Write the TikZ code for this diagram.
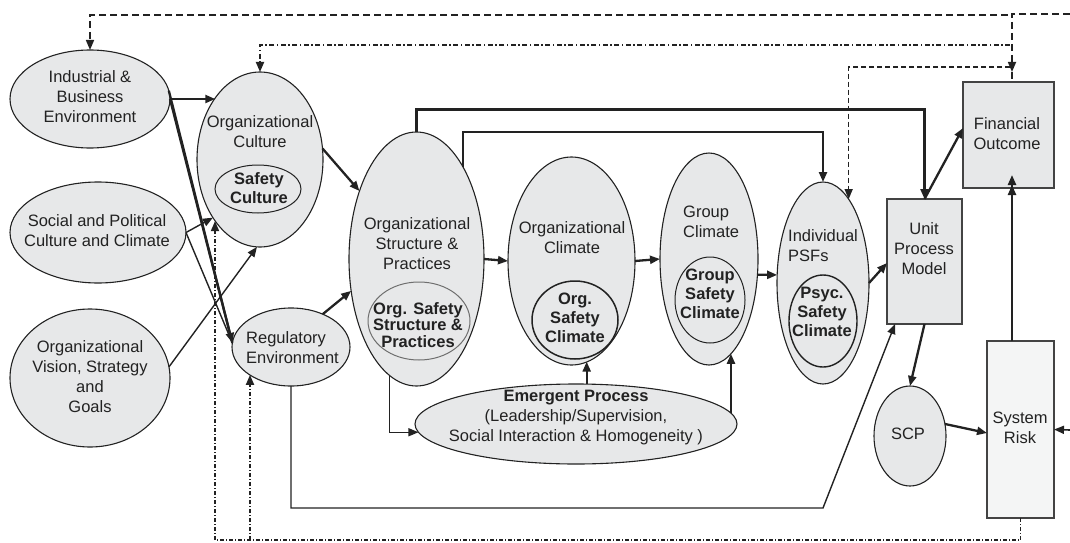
\documentclass[tikz,border=0pt]{standalone}
\usepackage{fontspec}
\setmainfont{Liberation Sans}
\usetikzlibrary{shapes.geometric,arrows.meta,calc}
\definecolor{shade}{HTML}{E7E8E9}
\definecolor{pale}{HTML}{F4F5F5}
\definecolor{ink}{HTML}{222222}
\begin{document}
\begin{tikzpicture}[x=1pt,y=-1pt,
  oval/.style={ellipse, draw=ink, fill=shade, line width=1.1pt, inner sep=0pt, outer sep=0pt},
  inset/.style={ellipse, draw=ink, line width=1pt, inner sep=0pt, outer sep=0pt},
  boxnode/.style={rectangle, draw=ink!85, fill=shade, line width=1.1pt, inner sep=0pt, outer sep=0pt},
  lbl/.style={font=\fontsize{16.5}{20}\selectfont, text=ink, align=center, inner sep=0pt},
  blbl/.style={font=\fontsize{16.5}{19}\selectfont\bfseries, text=ink, align=center, inner sep=0pt},
  tip/.style={-{Triangle[length=10pt,width=8pt]}},
  dtip/.style={-{Triangle[length=10pt,width=8pt]Triangle[length=10pt,width=8pt]}},
  flow/.style={draw=ink, line width=2.3pt},
  link/.style={draw=ink, line width=1.4pt},
  fbdash/.style={draw=ink, line width=1.6pt, dash pattern=on 7pt off 4pt},
  fbshort/.style={draw=ink, line width=1.2pt, dash pattern=on 5pt off 3pt},
  fbdot/.style={draw=ink, line width=1.8pt, dash pattern=on 5pt off 2.5pt on 1.5pt off 2.5pt},
  fbdotlow/.style={draw=ink, line width=1.8pt, dash pattern=on 4pt off 2pt on 1pt off 2pt},
]
\useasboundingbox (0,0) rectangle (1070,543);

% ---- outer ellipses ----
\node[oval, minimum width=160pt, minimum height=98pt]  (ibe) at (90,99) {};
\node[oval, minimum width=176pt, minimum height=101pt] (spc) at (98,232.5) {};
\node[oval, minimum width=160pt, minimum height=138pt] (ovs) at (90,378) {};
\node[oval, minimum width=126pt, minimum height=175pt] (oc)  at (260,159.5) {};
\node[oval, minimum width=118pt, minimum height=78pt]  (reg) at (291,347) {};
\node[oval, minimum width=135pt, minimum height=254pt] (osp) at (416.5,259) {};
\node[oval, minimum width=127pt, minimum height=208pt] (ocl) at (571.5,261) {};
\node[oval, minimum width=98pt,  minimum height=212pt] (gc)  at (709,259) {};
\node[oval, minimum width=92pt,  minimum height=202pt] (psf) at (823,283) {};
\node[oval, minimum width=322pt, minimum height=80pt]  (ep)  at (576,424) {};
\node[oval, minimum width=72pt,  minimum height=100pt] (scp) at (910,436) {};

% ---- inner safety ellipses ----
\node[inset, minimum width=86pt, minimum height=48pt] (sc) at (258,189) {};
\node[inset, draw=ink!65, minimum width=102pt, minimum height=78pt] (osps) at (419,321) {};
\node[inset, line width=1.5pt, minimum width=86pt, minimum height=78pt] (ocls) at (575,320) {};
\node[inset, minimum width=70pt, minimum height=86pt] (gcs) at (710,300) {};
\node[inset, line width=1.4pt, minimum width=68pt, minimum height=92pt] (psfs) at (823,321) {};

% ---- boxes ----
\node[boxnode, minimum width=75pt, minimum height=125pt] (upm) at (924.5,261.5) {};
\node[boxnode, minimum width=91pt, minimum height=106pt] (fo) at (1008.5,135) {};
\node[boxnode, fill=pale, minimum width=67pt, minimum height=177pt] (sr) at (1020.5,429.5) {};

% ---- labels ----
\node[lbl] (ibeT) at (90,97) {Industrial \&\\Business\\Environment};
\node[lbl] (spcT) at (97,231) {Social and Political\\Culture and Climate};
\node[lbl] (ovsT) at (90,377) {Organizational\\Vision, Strategy\\and\\Goals};
\node[lbl] (ocT) at (260,132) {Organizational\\Culture};
\node[blbl] (scT) at (259,188) {Safety\\Culture};
\node[lbl, align=left, anchor=west] (regT) at (246,348) {Regulatory\\Environment};
\node[lbl] (ospT) at (417,244) {Organizational\\Structure \&\\Practices};
\node[blbl, font=\fontsize{16.5}{16.5}\selectfont\bfseries] (ospsT) at (418,325) {Org. Safety\\Structure \&\\Practices};
\node[lbl] (oclT) at (572,238) {Organizational\\Climate};
\node[blbl] (oclsT) at (575,318) {Org.\\Safety\\Climate};
\node[lbl, align=left, anchor=west] (gcT) at (683,222) {Group\\Climate};
\node[blbl] (gcsT) at (710,294) {Group\\Safety\\Climate};
\node[lbl, align=left, anchor=west] (psfT) at (788,246) {Individual\\PSFs};
\node[blbl] (psfsT) at (822,312) {Psyc.\\Safety\\Climate};
\node[lbl] (upmT) at (924,249) {Unit\\Process\\Model};
\node[lbl] (foT) at (1007,134) {Financial\\Outcome};
\node[lbl] (srT) at (1020,428) {System\\Risk};
\node[lbl] (scpT) at (908,434) {SCP};
\node[lbl] (epT) at (576,418) {\textbf{Emergent Process}\\(Leadership/Supervision,\\Social Interaction \& Homogeneity )};

% ---- junction and bend points ----
\coordinate (rtop) at (1070,14);
\coordinate (rside) at (1070,430);
\coordinate (jA) at (1008,15);
\coordinate (jB) at (1010,45);
\coordinate (jC) at (1010,67);
\coordinate (jD) at (1012,72);
\coordinate (low) at (823,508);
\coordinate (bl) at (215,540);
\coordinate (bm) at (250,540);

% ---- external environment into culture and regulation ----
\draw[flow, tip] (ibe.east) -- (ibe.east -| oc.126);
\draw[flow, tip] (ibe.east) -- (reg.176);
\draw[flow] (ibe.6) -- (reg.176);
\draw[link] (spc.east) -- (reg.176);
\draw[link, tip] (spc.east) -- (oc.231);
\draw[link, tip] (ovs.8) -- (oc.268);

% ---- main causal chain ----
\draw[flow, tip] (oc.10) -- (osp.130);
\draw[flow, tip] (reg.46) -- (osp.206);
\draw[flow, tip] (osp.east) -- (ocl.west);
\draw[flow, tip] (ocl.east) -- (gc.west);
\draw[flow, tip] (gc.-18) -- (psf.170);
\draw[flow, tip] (psf.east) -- ($(upm.west)+(0,1.5)$);
\draw[flow, tip] (osp.north) |- ($(upm.north)+(0,-89.5)$) -- (upm.north);
\draw[flow, tip] (osp.63) |- ($(psf.north)+(0,-50)$) -- (psf.north);
\draw[flow, tip] (upm.north) -- ($(fo.west)+(0,-7)$);
\draw[flow, dtip] ($(sr.north)+(-8.5,0)$) -- ($(fo.south)+(3.5,-13)$);
\draw[flow, tip] (upm.south) -- (scp.north);
\draw[flow, tip] (scp.19) -- ($(sr.west)+(0,3.5)$);
\draw[link, line width=1.6pt, tip] (rside) -- (sr.east);
\draw[link, tip] (reg.south) |- (low) -- ($(upm.south west)+(8,0)$);

% ---- emergent process ----
\draw[link, tip] (osp.257) |- (ep.183);
\draw[flow, tip] (ep.75) -- (ep.75 |- ocl.-81);
\draw[flow, tip] (ep.4) -- (ep.4 |- gc.-77);

% ---- feedback loops ----
\draw[fbdash, tip] (rtop) -| (jD);
\draw[fbdash] (jD) -- (jD |- fo.north);
\draw[fbdash, tip] (jA) -| (ibe.north);
\draw[fbdot, tip] (jB) -| (oc.north);
\draw[fbshort, tip] (jC) -| (psf.73);
\draw[fbdotlow] (sr.south) |- (bl);
\draw[fbdotlow, tip] (bl) -- (bl |- oc.234);
\draw[fbdotlow, tip] (bm) -- (bm |- reg.214);
\end{tikzpicture}
\end{document}
